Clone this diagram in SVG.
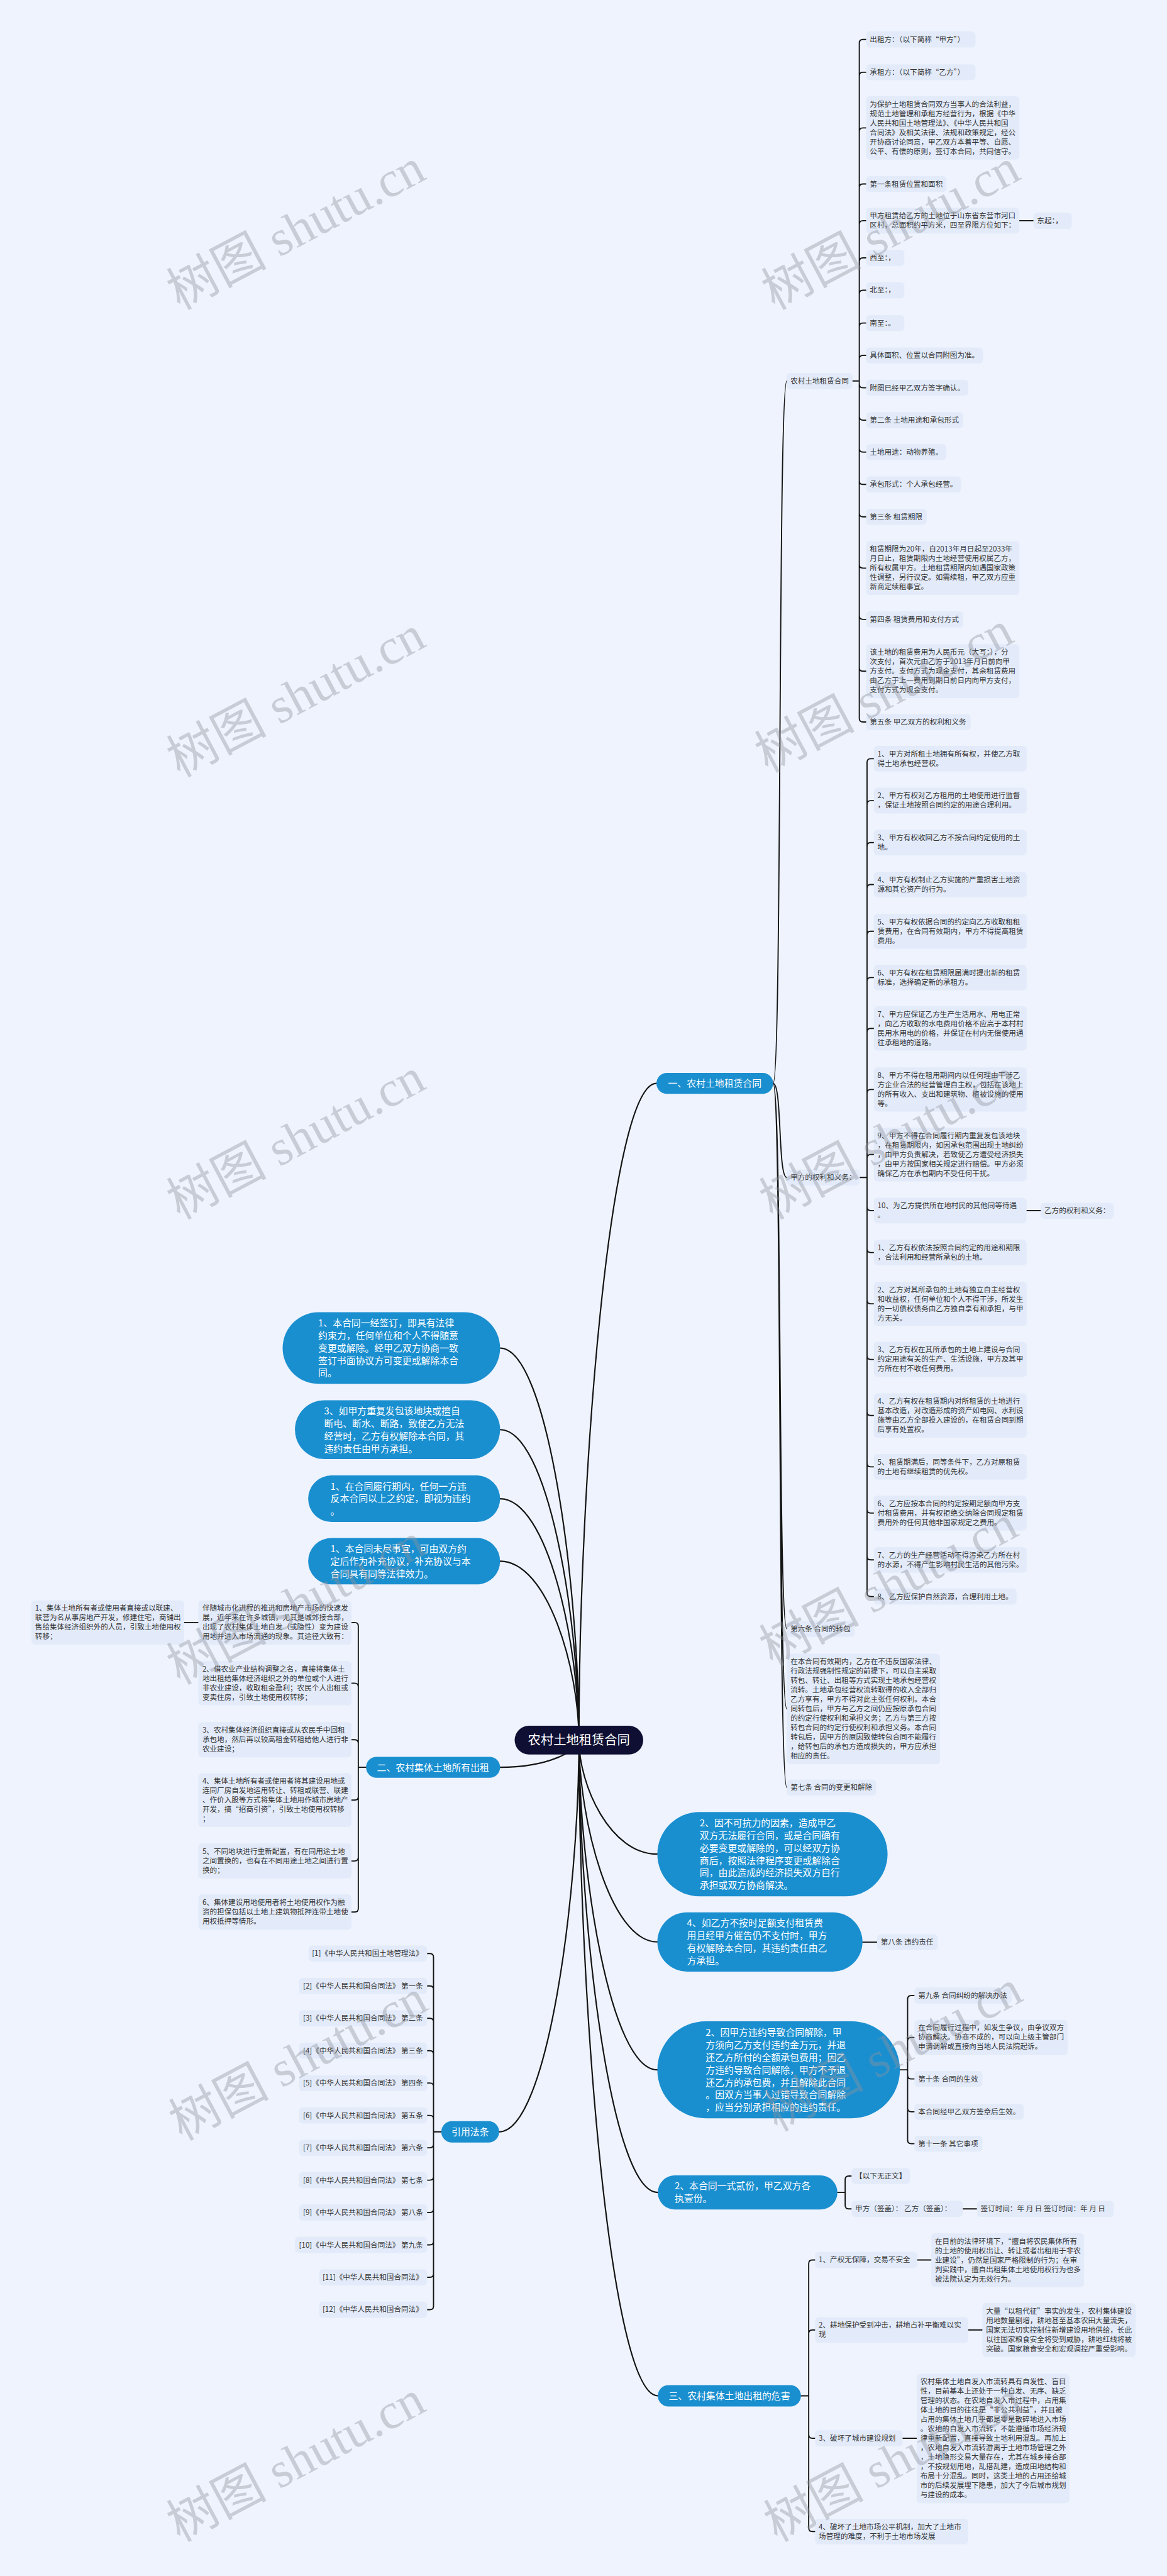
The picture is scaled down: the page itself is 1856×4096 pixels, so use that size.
<svg xmlns="http://www.w3.org/2000/svg" width="1856" height="4096" viewBox="0 0 1856 4096">
<defs>
<style>
.bx{fill:#e3ebfa}
.t{font-family:"Noto Sans CJK SC","Noto Sans",sans-serif;font-size:16px;fill:#333}
.te{font-family:"Noto Sans CJK SC","Noto Sans",sans-serif;font-size:16px;fill:#333;text-anchor:end}
.bn{fill:#1a8fd0}
.bt{font-family:"Noto Sans CJK SC","Noto Sans",sans-serif;font-size:20.5px;fill:#fff}
.btc{font-family:"Noto Sans CJK SC","Noto Sans",sans-serif;font-size:20.5px;fill:#fff;text-anchor:middle}
.c{fill:none;stroke:#141414;stroke-width:2.6;stroke-linecap:round;stroke-linejoin:round}
.ct{fill:none;stroke:#141414;stroke-width:3;stroke-linecap:round}
.wm{font-family:"Liberation Serif","Noto Sans CJK SC",serif;font-size:110px;fill:#8f939c;opacity:0.4;text-anchor:middle}
</style>
</defs>
<rect width="1856" height="4096" fill="#eef3fd"/>
<g transform="scale(0.725)">
<g id="connectors">
<path class="ct" d="M1270 3816 C1270 3240 1338 2376 1440 2376 M1270 3816 C1270 3916 1339 4066.5 1442 4066.5 M1270 3816 C1270 3993 1339 4259 1442 4259 M1270 3816 C1270 4105 1339 4539.5 1442 4539.5 M1270 3816 C1270 4213 1339 4808.5 1443 4808.5 M1270 3816 C1270 4391 1339 5254.5 1443 5254.5 M1270 3816 C1270 3472 1201 2956.5 1097 2956.5 M1270 3816 C1270 3544 1201 3135.5 1097 3135.5 M1270 3816 C1270 3604 1201 3287 1097 3287 M1270 3816 C1270 3659 1201 3424 1097 3424 M1270 3816 C1270 3840 1201 3876 1097 3876 M1270 3816 C1270 4160 1200 4675.5 1095 4675.5"/>
<path class="c" d="M1696 2376 C1716 2376 1706 835.5 1726 835.5 M1696 2376 C1716 2376 1706 2582.5 1726 2582.5 M1696 2376 C1716 2376 1706 3572.5 1726 3572.5 M1696 2376 C1716 2376 1706 3748 1726 3748 M1696 2376 C1716 2376 1706 3920.5 1726 3920.5"/>
<path class="c" d="M1870 835.5 H1885 M1885 835.5 V94.5 Q1885 86.5 1893 86.5 H1900 M1885 835.5 V166.5 Q1885 158.5 1893 158.5 H1900 M1885 835.5 V288.5 Q1885 280.5 1893 280.5 H1900 M1885 835.5 V411.5 Q1885 403.5 1893 403.5 H1900 M1885 835.5 V492 Q1885 484 1893 484 H1900 M1885 835.5 V573.5 Q1885 565.5 1893 565.5 H1900 M1885 835.5 V644.5 Q1885 636.5 1893 636.5 H1900 M1885 835.5 V716.5 Q1885 708.5 1893 708.5 H1900 M1885 835.5 V787.5 Q1885 779.5 1893 779.5 H1900 M1885 835.5 V842.5 Q1885 850.5 1893 850.5 H1900 M1885 835.5 V913.5 Q1885 921.5 1893 921.5 H1900 M1885 835.5 V983.5 Q1885 991.5 1893 991.5 H1900 M1885 835.5 V1054.5 Q1885 1062.5 1893 1062.5 H1900 M1885 835.5 V1125.5 Q1885 1133.5 1893 1133.5 H1900 M1885 835.5 V1238 Q1885 1246 1893 1246 H1900 M1885 835.5 V1350.5 Q1885 1358.5 1893 1358.5 H1900 M1885 835.5 V1464 Q1885 1472 1893 1472 H1900 M1885 835.5 V1575.5 Q1885 1583.5 1893 1583.5 H1900"/>
<path class="c" d="M1886 2582.5 H1902 M1902 2582.5 V1672 Q1902 1664 1910 1664 H1917 M1902 2582.5 V1764 Q1902 1756 1910 1756 H1917 M1902 2582.5 V1856 Q1902 1848 1910 1848 H1917 M1902 2582.5 V1948 Q1902 1940 1910 1940 H1917 M1902 2582.5 V2050.5 Q1902 2042.5 1910 2042.5 H1917 M1902 2582.5 V2152 Q1902 2144 1910 2144 H1917 M1902 2582.5 V2263.5 Q1902 2255.5 1910 2255.5 H1917 M1902 2582.5 V2397.5 Q1902 2389.5 1910 2389.5 H1917 M1902 2582.5 V2540 Q1902 2532 1910 2532 H1917 M1902 2582.5 V2647 Q1902 2655 1910 2655 H1917 M1902 2582.5 V2739 Q1902 2747 1910 2747 H1917 M1902 2582.5 V2851.5 Q1902 2859.5 1910 2859.5 H1917 M1902 2582.5 V2973.5 Q1902 2981.5 1910 2981.5 H1917 M1902 2582.5 V3096.5 Q1902 3104.5 1910 3104.5 H1917 M1902 2582.5 V3209 Q1902 3217 1910 3217 H1917 M1902 2582.5 V3310.5 Q1902 3318.5 1910 3318.5 H1917 M1902 2582.5 V3413 Q1902 3421 1910 3421 H1917 M1902 2582.5 V3493.5 Q1902 3501.5 1910 3501.5 H1917"/>
<path class="c" d="M1974 4539.5 H1991 M1991 4539.5 V4384.5 Q1991 4376.5 1999 4376.5 H2006 M1991 4539.5 V4476.5 Q1991 4468.5 1999 4468.5 H2006 M1991 4539.5 V4551.5 Q1991 4559.5 1999 4559.5 H2006 M1991 4539.5 V4623.5 Q1991 4631.5 1999 4631.5 H2006 M1991 4539.5 V4693.5 Q1991 4701.5 1999 4701.5 H2006"/>
<path class="c" d="M1837 4808.5 H1854 M1854 4808.5 V4780.5 Q1854 4772.5 1862 4772.5 H1868 M1854 4808.5 V4836.5 Q1854 4844.5 1862 4844.5 H1868"/>
<path class="c" d="M1757 5254.5 H1774 M1774 5254.5 V4964.5 Q1774 4956.5 1782 4956.5 H1788 M1774 5254.5 V5118 Q1774 5110 1782 5110 H1788 M1774 5254.5 V5339.5 Q1774 5347.5 1782 5347.5 H1788 M1774 5254.5 V5544 Q1774 5552 1782 5552 H1788"/>
<path class="c" d="M803 3876 H786 M786 3876 V3566.5 Q786 3558.5 778 3558.5 H771 M786 3876 V3699.5 Q786 3691.5 778 3691.5 H771 M786 3876 V3823.5 Q786 3815.5 778 3815.5 H771 M786 3876 V3940 Q786 3948 778 3948 H771 M786 3876 V4073.5 Q786 4081.5 778 4081.5 H771 M786 3876 V4185.5 Q786 4193.5 778 4193.5 H771"/>
<path class="c" d="M968 4675.5 H951 M951 4675.5 V4292.5 Q951 4284.5 943 4284.5 H937 M951 4675.5 V4363.5 Q951 4355.5 943 4355.5 H937 M951 4675.5 V4434.5 Q951 4426.5 943 4426.5 H937 M951 4675.5 V4505.5 Q951 4497.5 943 4497.5 H937 M951 4675.5 V4576.5 Q951 4568.5 943 4568.5 H937 M951 4675.5 V4647.5 Q951 4639.5 943 4639.5 H937 M951 4675.5 V4702.5 Q951 4710.5 943 4710.5 H937 M951 4675.5 V4773.5 Q951 4781.5 943 4781.5 H937 M951 4675.5 V4844.5 Q951 4852.5 943 4852.5 H937 M951 4675.5 V4915.5 Q951 4923.5 943 4923.5 H937 M951 4675.5 V4986.5 Q951 4994.5 943 4994.5 H937 M951 4675.5 V5057.5 Q951 5065.5 943 5065.5 H937"/>
<path class="c" d="M2236 484 H2267 M2252 2655 H2283 M435 3558.5 H404 M1892 4259.5 H1924 M2112 4844.5 H2143 M2012 4956.5 H2043 M2124 5110 H2155 M1980 5347.5 H2011"/>
</g>

<g id="root"><rect x="1129" y="3785" width="282" height="63" rx="31.5" fill="#0f0f33"/><text x="1270" y="3826" font-family="Noto Sans CJK SC, sans-serif" font-size="28" fill="#fff" text-anchor="middle">农村土地租赁合同</text></g>

<g id="n-yi"><rect class="bn" x="1440" y="2353" width="256" height="46" rx="23"/><text class="btc" x="1568" y="2383.5">一、农村土地租赁合同</text></g>
<g id="n-er"><rect class="bn" x="803" y="3853" width="294" height="46" rx="23"/><text class="btc" x="950" y="3883.5">二、农村集体土地所有出租</text></g>
<g id="n-san"><rect class="bn" x="1443" y="5231" width="314" height="47" rx="23.5"/><text class="btc" x="1600" y="5262">三、农村集体土地出租的危害</text></g>
<g id="n-yinyong"><rect class="bn" x="968" y="4652" width="127" height="47" rx="23.5"/><text class="btc" x="1031.5" y="4683">引用法条</text></g>

<g id="L1"><rect class="bn" x="620" y="2878" width="477" height="157" rx="78.5"/><text class="bt" x="698" y="2909">1、本合同一经签订，即具有法律<tspan x="698" dy="27.4">约束力，任何单位和个人不得随意</tspan><tspan x="698" dy="27.4">变更或解除。经甲乙双方协商一致</tspan><tspan x="698" dy="27.4">签订书面协议方可变更或解除本合</tspan><tspan x="698" dy="27.4">同。</tspan></text></g>
<g id="L2"><rect class="bn" x="647" y="3071" width="450" height="129" rx="64.5"/><text class="bt" x="711" y="3102">3、如甲方重复发包该地块或擅自<tspan x="711" dy="27.4">断电、断水、断路，致使乙方无法</tspan><tspan x="711" dy="27.4">经营时，乙方有权解除本合同，其</tspan><tspan x="711" dy="27.4">违约责任由甲方承担。</tspan></text></g>
<g id="L3"><rect class="bn" x="676" y="3236" width="421" height="102" rx="51"/><text class="bt" x="725" y="3267">1、在合同履行期内，任何一方违<tspan x="725" dy="27.4">反本合同以上之约定，即视为违约</tspan><tspan x="725" dy="27.4">。</tspan></text></g>
<g id="L4"><rect class="bn" x="676" y="3373" width="421" height="102" rx="51"/><text class="bt" x="725" y="3404">1、本合同未尽事宜，可由双方约<tspan x="725" dy="27.4">定后作为补充协议，补充协议与本</tspan><tspan x="725" dy="27.4">合同具有同等法律效力。</tspan></text></g>

<g id="N1"><rect class="bn" x="1442" y="3974" width="505" height="185" rx="92.5"/><text class="bt" x="1535" y="4005.5">2、因不可抗力的因素，造成甲乙<tspan x="1535" dy="27.4">双方无法履行合同，或是合同确有</tspan><tspan x="1535" dy="27.4">必要变更或解除的，可以经双方协</tspan><tspan x="1535" dy="27.4">商后，按照法律程序变更或解除合</tspan><tspan x="1535" dy="27.4">同，由此造成的经济损失双方自行</tspan><tspan x="1535" dy="27.4">承担或双方协商解决。</tspan></text></g>
<g id="N2"><rect class="bn" x="1442" y="4194" width="450" height="130" rx="65"/><text class="bt" x="1507" y="4225.5">4、如乙方不按时足额支付租赁费<tspan x="1507" dy="27.4">用且经甲方催告仍不支付时，甲方</tspan><tspan x="1507" dy="27.4">有权解除本合同，其违约责任由乙</tspan><tspan x="1507" dy="27.4">方承担。</tspan></text></g>
<g id="N3"><rect class="bn" x="1442" y="4433" width="532" height="213" rx="106.5"/><text class="bt" x="1548" y="4465">2、因甲方违约导致合同解除，甲<tspan x="1548" dy="27.4">方须向乙方支付违约金万元，并退</tspan><tspan x="1548" dy="27.4">还乙方所付的全额承包费用；因乙</tspan><tspan x="1548" dy="27.4">方违约导致合同解除，甲方不予退</tspan><tspan x="1548" dy="27.4">还乙方的承包费，并且解除此合同</tspan><tspan x="1548" dy="27.4">。因双方当事人过错导致合同解除</tspan><tspan x="1548" dy="27.4">，应当分别承担相应的违约责任。</tspan></text></g>
<g id="N4"><rect class="bn" x="1443" y="4771" width="394" height="75" rx="37.5"/><text class="bt" x="1480" y="4802">2、本合同一式贰份，甲乙双方各<tspan x="1480" dy="27.4">执壹份。</tspan></text></g>

<g id="A0"><rect class="bx" x="1726" y="818" width="144" height="35" rx="8"/><text class="t" x="1734" y="841">农村土地租赁合同</text></g>
<g id="A1"><rect class="bx" x="1900" y="69" width="240" height="35" rx="8"/><text class="t" x="1908" y="92">出租方：（以下简称“甲方”）</text></g>
<g id="A2"><rect class="bx" x="1900" y="141" width="240" height="35" rx="8"/><text class="t" x="1908" y="164">承租方：（以下简称“乙方”）</text></g>
<g id="A3"><rect class="bx" x="1900" y="211" width="336" height="139" rx="8"/><text class="t" x="1908" y="234">为保护土地租赁合同双方当事人的合法利益，<tspan x="1908" dy="20.7">规范土地管理和承租方经营行为，根据《中华</tspan><tspan x="1908" dy="20.7">人民共和国土地管理法》、《中华人民共和国</tspan><tspan x="1908" dy="20.7">合同法》及相关法律、法规和政策规定，经公</tspan><tspan x="1908" dy="20.7">开协商讨论同意，甲乙双方本着平等、自愿、</tspan><tspan x="1908" dy="20.7">公平、有偿的原则，签订本合同，共同信守。</tspan></text></g>
<g id="A4"><rect class="bx" x="1900" y="386" width="176" height="35" rx="8"/><text class="t" x="1908" y="409">第一条租赁位置和面积</text></g>
<g id="A5"><rect class="bx" x="1900" y="456" width="336" height="56" rx="8"/><text class="t" x="1908" y="479">甲方租赁给乙方的土地位于山东省东营市河口<tspan x="1908" dy="20.7">区村，总面积约平方米，四至界限方位如下：</tspan></text></g>
<g id="A5c"><rect class="bx" x="2267" y="467" width="84" height="35" rx="8"/><text class="t" x="2275" y="490">东起：，</text></g>
<g id="A6"><rect class="bx" x="1900" y="548" width="84" height="35" rx="8"/><text class="t" x="1908" y="571">西至：，</text></g>
<g id="A7"><rect class="bx" x="1900" y="619" width="84" height="35" rx="8"/><text class="t" x="1908" y="642">北至：，</text></g>
<g id="A8"><rect class="bx" x="1900" y="691" width="84" height="35" rx="8"/><text class="t" x="1908" y="714">南至：。</text></g>
<g id="A9"><rect class="bx" x="1900" y="762" width="256" height="35" rx="8"/><text class="t" x="1908" y="785">具体面积、位置以合同附图为准。</text></g>
<g id="A10"><rect class="bx" x="1900" y="833" width="224" height="35" rx="8"/><text class="t" x="1908" y="856">附图已经甲乙双方签字确认。</text></g>
<g id="A11"><rect class="bx" x="1900" y="904" width="213" height="35" rx="8"/><text class="t" x="1908" y="927">第二条 土地用途和承包形式</text></g>
<g id="A12"><rect class="bx" x="1900" y="974" width="176" height="35" rx="8"/><text class="t" x="1908" y="997">土地用途：动物养殖。</text></g>
<g id="A13"><rect class="bx" x="1900" y="1045" width="208" height="35" rx="8"/><text class="t" x="1908" y="1068">承包形式：个人承包经营。</text></g>
<g id="A14"><rect class="bx" x="1900" y="1116" width="133" height="35" rx="8"/><text class="t" x="1908" y="1139">第三条 租赁期限</text></g>
<g id="A15"><rect class="bx" x="1900" y="1187" width="336" height="118" rx="8"/><text class="t" x="1908" y="1210">租赁期限为20年，自2013年月日起至2033年<tspan x="1908" dy="20.7">月日止，租赁期限内土地经营使用权属乙方，</tspan><tspan x="1908" dy="20.7">所有权属甲方。土地租赁期限内如遇国家政策</tspan><tspan x="1908" dy="20.7">性调整，另行议定。如需续租，甲乙双方应重</tspan><tspan x="1908" dy="20.7">新商定续租事宜。</tspan></text></g>
<g id="A16"><rect class="bx" x="1900" y="1341" width="213" height="35" rx="8"/><text class="t" x="1908" y="1364">第四条 租赁费用和支付方式</text></g>
<g id="A17"><rect class="bx" x="1900" y="1413" width="336" height="118" rx="8"/><text class="t" x="1908" y="1436">该土地的租赁费用为人民币元（大写：），分<tspan x="1908" dy="20.7">次支付，首次元由乙方于2013年月日前向甲</tspan><tspan x="1908" dy="20.7">方支付。支付方式为现金支付，其余租赁费用</tspan><tspan x="1908" dy="20.7">由乙方于上一费用到期日前日内向甲方支付，</tspan><tspan x="1908" dy="20.7">支付方式为现金支付。</tspan></text></g>
<g id="A18"><rect class="bx" x="1900" y="1566" width="229" height="35" rx="8"/><text class="t" x="1908" y="1589">第五条 甲乙双方的权利和义务</text></g>

<g id="B0"><rect class="bx" x="1726" y="2565" width="160" height="35" rx="8"/><text class="t" x="1734" y="2588">甲方的权利和义务：</text></g>
<g id="B1"><rect class="bx" x="1917" y="1636" width="335" height="56" rx="8"/><text class="t" x="1925" y="1659">1、甲方对所租土地拥有所有权，并使乙方取<tspan x="1925" dy="20.7">得土地承包经营权。</tspan></text></g>
<g id="B2"><rect class="bx" x="1917" y="1728" width="335" height="56" rx="8"/><text class="t" x="1925" y="1751">2、甲方有权对乙方租用的土地使用进行监督<tspan x="1925" dy="20.7">，保证土地按照合同约定的用途合理利用。</tspan></text></g>
<g id="B3"><rect class="bx" x="1917" y="1820" width="335" height="56" rx="8"/><text class="t" x="1925" y="1843">3、甲方有权收回乙方不按合同约定使用的土<tspan x="1925" dy="20.7">地。</tspan></text></g>
<g id="B4"><rect class="bx" x="1917" y="1912" width="335" height="56" rx="8"/><text class="t" x="1925" y="1935">4、甲方有权制止乙方实施的严重损害土地资<tspan x="1925" dy="20.7">源和其它资产的行为。</tspan></text></g>
<g id="B5"><rect class="bx" x="1917" y="2004" width="335" height="77" rx="8"/><text class="t" x="1925" y="2027">5、甲方有权依据合同的约定向乙方收取租租<tspan x="1925" dy="20.7">赁费用，在合同有效期内，甲方不得提高租赁</tspan><tspan x="1925" dy="20.7">费用。</tspan></text></g>
<g id="B6"><rect class="bx" x="1917" y="2116" width="335" height="56" rx="8"/><text class="t" x="1925" y="2139">6、甲方有权在租赁期限届满时提出新的租赁<tspan x="1925" dy="20.7">标准，选择确定新的承租方。</tspan></text></g>
<g id="B7"><rect class="bx" x="1917" y="2207" width="335" height="97" rx="8"/><text class="t" x="1925" y="2230">7、甲方应保证乙方生产生活用水、用电正常<tspan x="1925" dy="20.7">，向乙方收取的水电费用价格不应高于本村村</tspan><tspan x="1925" dy="20.7">民用水用电的价格，并保证在村内无偿使用通</tspan><tspan x="1925" dy="20.7">往承租地的道路。</tspan></text></g>
<g id="B8"><rect class="bx" x="1917" y="2341" width="335" height="97" rx="8"/><text class="t" x="1925" y="2364">8、甲方不得在租用期间内以任何理由干涉乙<tspan x="1925" dy="20.7">方企业合法的经营管理自主权，包括在该地上</tspan><tspan x="1925" dy="20.7">的所有收入、支出和建筑物、植被设施的使用</tspan><tspan x="1925" dy="20.7">等。</tspan></text></g>
<g id="B9"><rect class="bx" x="1917" y="2473" width="335" height="118" rx="8"/><text class="t" x="1925" y="2496">9、甲方不得在合同履行期内重复发包该地块<tspan x="1925" dy="20.7">，在租赁期限内，如因承包范围出现土地纠纷</tspan><tspan x="1925" dy="20.7">，由甲方负责解决，若致使乙方遭受经济损失</tspan><tspan x="1925" dy="20.7">，由甲方按国家相关规定进行赔偿。甲方必须</tspan><tspan x="1925" dy="20.7">确保乙方在承包期内不受任何干扰。</tspan></text></g>
<g id="B10"><rect class="bx" x="1917" y="2627" width="335" height="56" rx="8"/><text class="t" x="1925" y="2650">10、为乙方提供所在地村民的其他同等待遇<tspan x="1925" dy="20.7">。</tspan></text></g>
<g id="B10c"><rect class="bx" x="2283" y="2638" width="160" height="35" rx="8"/><text class="t" x="2291" y="2661">乙方的权利和义务：</text></g>
<g id="B11"><rect class="bx" x="1917" y="2719" width="335" height="56" rx="8"/><text class="t" x="1925" y="2742">1、乙方有权依法按照合同约定的用途和期限<tspan x="1925" dy="20.7">，合法利用和经营所承包的土地。</tspan></text></g>
<g id="B12"><rect class="bx" x="1917" y="2811" width="335" height="97" rx="8"/><text class="t" x="1925" y="2834">2、乙方对其所承包的土地有独立自主经营权<tspan x="1925" dy="20.7">和收益权，任何单位和个人不得干涉，所发生</tspan><tspan x="1925" dy="20.7">的一切债权债务由乙方独自享有和承担，与甲</tspan><tspan x="1925" dy="20.7">方无关。</tspan></text></g>
<g id="B13"><rect class="bx" x="1917" y="2943" width="335" height="77" rx="8"/><text class="t" x="1925" y="2966">3、乙方有权在其所承包的土地上建设与合同<tspan x="1925" dy="20.7">约定用途有关的生产、生活设施，甲方及其甲</tspan><tspan x="1925" dy="20.7">方所在村不收任何费用。</tspan></text></g>
<g id="B14"><rect class="bx" x="1917" y="3056" width="335" height="97" rx="8"/><text class="t" x="1925" y="3079">4、乙方有权在租赁期内对所租赁的土地进行<tspan x="1925" dy="20.7">基本改造，对改造形成的资产如电网、水利设</tspan><tspan x="1925" dy="20.7">施等由乙方全部投入建设的，在租赁合同到期</tspan><tspan x="1925" dy="20.7">后享有处置权。</tspan></text></g>
<g id="B15"><rect class="bx" x="1917" y="3189" width="335" height="56" rx="8"/><text class="t" x="1925" y="3212">5、租赁期满后，同等条件下，乙方对原租赁<tspan x="1925" dy="20.7">的土地有继续租赁的优先权。</tspan></text></g>
<g id="B16"><rect class="bx" x="1917" y="3280" width="335" height="77" rx="8"/><text class="t" x="1925" y="3303">6、乙方应按本合同的约定按期足额向甲方支<tspan x="1925" dy="20.7">付租赁费用，并有权拒绝交纳除合同规定租赁</tspan><tspan x="1925" dy="20.7">费用外的任何其他非国家规定之费用。</tspan></text></g>
<g id="B17"><rect class="bx" x="1917" y="3393" width="335" height="56" rx="8"/><text class="t" x="1925" y="3416">7、乙方的生产经营活动不得污染乙方所在村<tspan x="1925" dy="20.7">的水源，不得产生影响村民生活的其他污染。</tspan></text></g>
<g id="B18"><rect class="bx" x="1917" y="3484" width="313" height="35" rx="8"/><text class="t" x="1925" y="3507">8、乙方应保护自然资源，合理利用土地。</text></g>

<g id="C1"><rect class="bx" x="1726" y="3555" width="149" height="35" rx="8"/><text class="t" x="1734" y="3578">第六条 合同的转包</text></g>
<g id="C2"><rect class="bx" x="1726" y="3627" width="336" height="242" rx="8"/><text class="t" x="1734" y="3650">在本合同有效期内，乙方在不违反国家法律、<tspan x="1734" dy="20.7">行政法规强制性规定的前提下，可以自主采取</tspan><tspan x="1734" dy="20.7">转包、转让、出租等方式实现土地承包经营权</tspan><tspan x="1734" dy="20.7">流转。土地承包经营权流转取得的收入全部归</tspan><tspan x="1734" dy="20.7">乙方享有，甲方不得对此主张任何权利。本合</tspan><tspan x="1734" dy="20.7">同转包后，甲方与乙方之间仍应按原承包合同</tspan><tspan x="1734" dy="20.7">的约定行使权利和承担义务；乙方与第三方按</tspan><tspan x="1734" dy="20.7">转包合同的约定行使权利和承担义务。本合同</tspan><tspan x="1734" dy="20.7">转包后，因甲方的原因致使转包合同不能履行</tspan><tspan x="1734" dy="20.7">，给转包后的承包方造成损失的，甲方应承担</tspan><tspan x="1734" dy="20.7">相应的责任。</tspan></text></g>
<g id="C3"><rect class="bx" x="1726" y="3903" width="196" height="35" rx="8"/><text class="t" x="1734" y="3926">第七条 合同的变更和解除</text></g>

<g id="N2c"><rect class="bx" x="1924" y="4242" width="133" height="35" rx="8"/><text class="t" x="1932" y="4265">第八条 违约责任</text></g>
<g id="D1"><rect class="bx" x="2006" y="4359" width="213" height="35" rx="8"/><text class="t" x="2014" y="4382">第九条 合同纠纷的解决办法</text></g>
<g id="D2"><rect class="bx" x="2006" y="4430" width="336" height="77" rx="8"/><text class="t" x="2014" y="4453">在合同履行过程中，如发生争议，由争议双方<tspan x="2014" dy="20.7">协商解决。协商不成的，可以向上级主管部门</tspan><tspan x="2014" dy="20.7">申请调解或直接向当地人民法院起诉。</tspan></text></g>
<g id="D3"><rect class="bx" x="2006" y="4542" width="149" height="35" rx="8"/><text class="t" x="2014" y="4565">第十条 合同的生效</text></g>
<g id="D4"><rect class="bx" x="2006" y="4614" width="240" height="35" rx="8"/><text class="t" x="2014" y="4637">本合同经甲乙双方签章后生效。</text></g>
<g id="D5"><rect class="bx" x="2006" y="4684" width="149" height="35" rx="8"/><text class="t" x="2014" y="4707">第十一条 其它事项</text></g>

<g id="E1"><rect class="bx" x="1868" y="4755" width="128" height="35" rx="8"/><text class="t" x="1876" y="4778">【以下无正文】</text></g>
<g id="E2"><rect class="bx" x="1868" y="4827" width="244" height="35" rx="8"/><text class="t" x="1876" y="4850">甲方（签盖）： 乙方（签盖）：</text></g>
<g id="E3"><rect class="bx" x="2143" y="4827" width="300" height="35" rx="8"/><text class="t" x="2151" y="4850">签订时间：年 月 日 签订时间：年 月 日</text></g>

<g id="F1"><rect class="bx" x="1788" y="4939" width="224" height="35" rx="8"/><text class="t" x="1796" y="4962">1、产权无保障，交易不安全</text></g>
<g id="F1p"><rect class="bx" x="2043" y="4898" width="335" height="118" rx="8"/><text class="t" x="2051" y="4921">在目前的法律环境下，“擅自将农民集体所有<tspan x="2051" dy="20.7">的土地的使用权出让、转让或者出租用于非农</tspan><tspan x="2051" dy="20.7">业建设”，仍然是国家严格限制的行为；在审</tspan><tspan x="2051" dy="20.7">判实践中，擅自出租集体土地使用权行为也多</tspan><tspan x="2051" dy="20.7">被法院认定为无效行为。</tspan></text></g>
<g id="F2"><rect class="bx" x="1788" y="5082" width="336" height="56" rx="8"/><text class="t" x="1796" y="5105">2、耕地保护受到冲击，耕地占补平衡难以实<tspan x="1796" dy="20.7">现</tspan></text></g>
<g id="F2p"><rect class="bx" x="2155" y="5051" width="336" height="118" rx="8"/><text class="t" x="2163" y="5074">大量“以租代征”事实的发生，农村集体建设<tspan x="2163" dy="20.7">用地数量剧增，耕地甚至基本农田大量流失，</tspan><tspan x="2163" dy="20.7">国家无法切实控制住新增建设用地供给，长此</tspan><tspan x="2163" dy="20.7">以往国家粮食安全将受到威胁，耕地红线将被</tspan><tspan x="2163" dy="20.7">突破。国家粮食安全和宏观调控严重受影响。</tspan></text></g>
<g id="F3"><rect class="bx" x="1788" y="5330" width="192" height="35" rx="8"/><text class="t" x="1796" y="5353">3、破坏了城市建设规划</text></g>
<g id="F3p"><rect class="bx" x="2011" y="5206" width="335" height="284" rx="8"/><text class="t" x="2019" y="5229">农村集体土地自发入市流转具有自发性、盲目<tspan x="2019" dy="20.7">性，目前基本上还处于一种自发、无序、缺乏</tspan><tspan x="2019" dy="20.7">管理的状态。在农地自发入市过程中，占用集</tspan><tspan x="2019" dy="20.7">体土地的目的往往是“非公共利益”，并且被</tspan><tspan x="2019" dy="20.7">占用的集体土地几乎都是零星散碎地进入市场</tspan><tspan x="2019" dy="20.7">。农地的自发入市流转，不能遵循市场经济规</tspan><tspan x="2019" dy="20.7">律重新配置，直接导致土地利用混乱。再加上</tspan><tspan x="2019" dy="20.7">，农地自发入市流转游离于土地市场管理之外</tspan><tspan x="2019" dy="20.7">，土地隐形交易大量存在，尤其在城乡接合部</tspan><tspan x="2019" dy="20.7">，不按规划用地，乱搭乱建，造成田地结构和</tspan><tspan x="2019" dy="20.7">布局十分混乱。同时，这类土地的占用还给城</tspan><tspan x="2019" dy="20.7">市的后续发展埋下隐患，加大了今后城市规划</tspan><tspan x="2019" dy="20.7">与建设的成本。</tspan></text></g>
<g id="F4"><rect class="bx" x="1788" y="5524" width="336" height="56" rx="8"/><text class="t" x="1796" y="5547">4、破坏了土地市场公平机制，加大了土地市<tspan x="1796" dy="20.7">场管理的难度，不利于土地市场发展</tspan></text></g>

<g id="G1"><rect class="bx" x="435" y="3510" width="336" height="97" rx="8"/><text class="t" x="444" y="3533">伴随城市化进程的推进和房地产市场的快速发<tspan x="444" dy="20.7">展，近年来在许多城镇，尤其是城郊接合部，</tspan><tspan x="444" dy="20.7">出现了农村集体土地自发（或隐性）变为建设</tspan><tspan x="444" dy="20.7">用地并进入市场流通的现象。其途径大致有：</tspan></text></g>
<g id="G1c"><rect class="bx" x="69" y="3510" width="335" height="97" rx="8"/><text class="t" x="77" y="3533">1、集体土地所有者或使用者直接或以联建、<tspan x="77" dy="20.7">联营为名从事房地产开发，修建住宅，商铺出</tspan><tspan x="77" dy="20.7">售给集体经济组织外的人员，引致土地使用权</tspan><tspan x="77" dy="20.7">转移；</tspan></text></g>
<g id="G2"><rect class="bx" x="435" y="3643" width="336" height="97" rx="8"/><text class="t" x="444" y="3666">2、借农业产业结构调整之名，直接将集体土<tspan x="444" dy="20.7">地出租给集体经济组织之外的单位或个人进行</tspan><tspan x="444" dy="20.7">非农业建设，收取租金盈利；农民个人出租或</tspan><tspan x="444" dy="20.7">变卖住房，引致土地使用权转移；</tspan></text></g>
<g id="G3"><rect class="bx" x="435" y="3777" width="336" height="77" rx="8"/><text class="t" x="444" y="3800">3、农村集体经济组织直接或从农民手中回租<tspan x="444" dy="20.7">承包地，然后再以较高租金转租给他人进行非</tspan><tspan x="444" dy="20.7">农业建设；</tspan></text></g>
<g id="G4"><rect class="bx" x="435" y="3889" width="336" height="118" rx="8"/><text class="t" x="444" y="3912">4、集体土地所有者或使用者将其建设用地或<tspan x="444" dy="20.7">连同厂房自发地运用转让、转租或联营、联建</tspan><tspan x="444" dy="20.7">、作价入股等方式将集体土地用作城市房地产</tspan><tspan x="444" dy="20.7">开发，搞“招商引资”，引致土地使用权转移</tspan><tspan x="444" dy="20.7">；</tspan></text></g>
<g id="G5"><rect class="bx" x="435" y="4043" width="336" height="77" rx="8"/><text class="t" x="444" y="4066">5、不同地块进行重新配置，有在同用途土地<tspan x="444" dy="20.7">之间置换的，也有在不同用途土地之间进行置</tspan><tspan x="444" dy="20.7">换的；</tspan></text></g>
<g id="G6"><rect class="bx" x="435" y="4155" width="336" height="77" rx="8"/><text class="t" x="444" y="4178">6、集体建设用地使用者将土地使用权作为融<tspan x="444" dy="20.7">资的担保包括以土地上建筑物抵押连带土地使</tspan><tspan x="444" dy="20.7">用权抵押等情形。</tspan></text></g>

<g id="R1"><rect class="bx" x="677" y="4267" width="260" height="35" rx="8"/><text class="te" x="928" y="4290">[1]《中华人民共和国土地管理法》</text></g>
<g id="R2"><rect class="bx" x="656" y="4338" width="281" height="35" rx="8"/><text class="te" x="928" y="4361">[2]《中华人民共和国合同法》 第一条</text></g>
<g id="R3"><rect class="bx" x="656" y="4409" width="281" height="35" rx="8"/><text class="te" x="928" y="4432">[3]《中华人民共和国合同法》 第二条</text></g>
<g id="R4"><rect class="bx" x="656" y="4480" width="281" height="35" rx="8"/><text class="te" x="928" y="4503">[4]《中华人民共和国合同法》 第三条</text></g>
<g id="R5"><rect class="bx" x="656" y="4551" width="281" height="35" rx="8"/><text class="te" x="928" y="4574">[5]《中华人民共和国合同法》 第四条</text></g>
<g id="R6"><rect class="bx" x="656" y="4622" width="281" height="35" rx="8"/><text class="te" x="928" y="4645">[6]《中华人民共和国合同法》 第五条</text></g>
<g id="R7"><rect class="bx" x="656" y="4693" width="281" height="35" rx="8"/><text class="te" x="928" y="4716">[7]《中华人民共和国合同法》 第六条</text></g>
<g id="R8"><rect class="bx" x="656" y="4764" width="281" height="35" rx="8"/><text class="te" x="928" y="4787">[8]《中华人民共和国合同法》 第七条</text></g>
<g id="R9"><rect class="bx" x="656" y="4835" width="281" height="35" rx="8"/><text class="te" x="928" y="4858">[9]《中华人民共和国合同法》 第八条</text></g>
<g id="R10"><rect class="bx" x="647" y="4906" width="290" height="35" rx="8"/><text class="te" x="928" y="4929">[10]《中华人民共和国合同法》 第九条</text></g>
<g id="R11"><rect class="bx" x="700" y="4977" width="237" height="35" rx="8"/><text class="te" x="928" y="5000">[11]《中华人民共和国合同法》</text></g>
<g id="R12"><rect class="bx" x="700" y="5048" width="237" height="35" rx="8"/><text class="te" x="928" y="5071">[12]《中华人民共和国合同法》</text></g>

<g id="watermark">
<text class="wm" transform="rotate(-28 650 505)" x="650" y="540">树图 shutu.cn</text>
<text class="wm" transform="rotate(-28 1955 505)" x="1955" y="540">树图 shutu.cn</text>
<text class="wm" transform="rotate(-28 650 1530)" x="650" y="1565">树图 shutu.cn</text>
<text class="wm" transform="rotate(-28 1940 1520)" x="1940" y="1555">树图 shutu.cn</text>
<text class="wm" transform="rotate(-28 650 2500)" x="650" y="2535">树图 shutu.cn</text>
<text class="wm" transform="rotate(-28 1950 2500)" x="1950" y="2535">树图 shutu.cn</text>
<text class="wm" transform="rotate(-28 650 3520)" x="650" y="3555">树图 shutu.cn</text>
<text class="wm" transform="rotate(-28 1950 3480)" x="1950" y="3515">树图 shutu.cn</text>
<text class="wm" transform="rotate(-28 655 4520)" x="655" y="4555">树图 shutu.cn</text>
<text class="wm" transform="rotate(-28 1960 4500)" x="1960" y="4535">树图 shutu.cn</text>
<text class="wm" transform="rotate(-28 650 5400)" x="650" y="5435">树图 shutu.cn</text>
<text class="wm" transform="rotate(-28 1960 5400)" x="1960" y="5435">树图 shutu.cn</text>
</g>
</g>
</svg>
